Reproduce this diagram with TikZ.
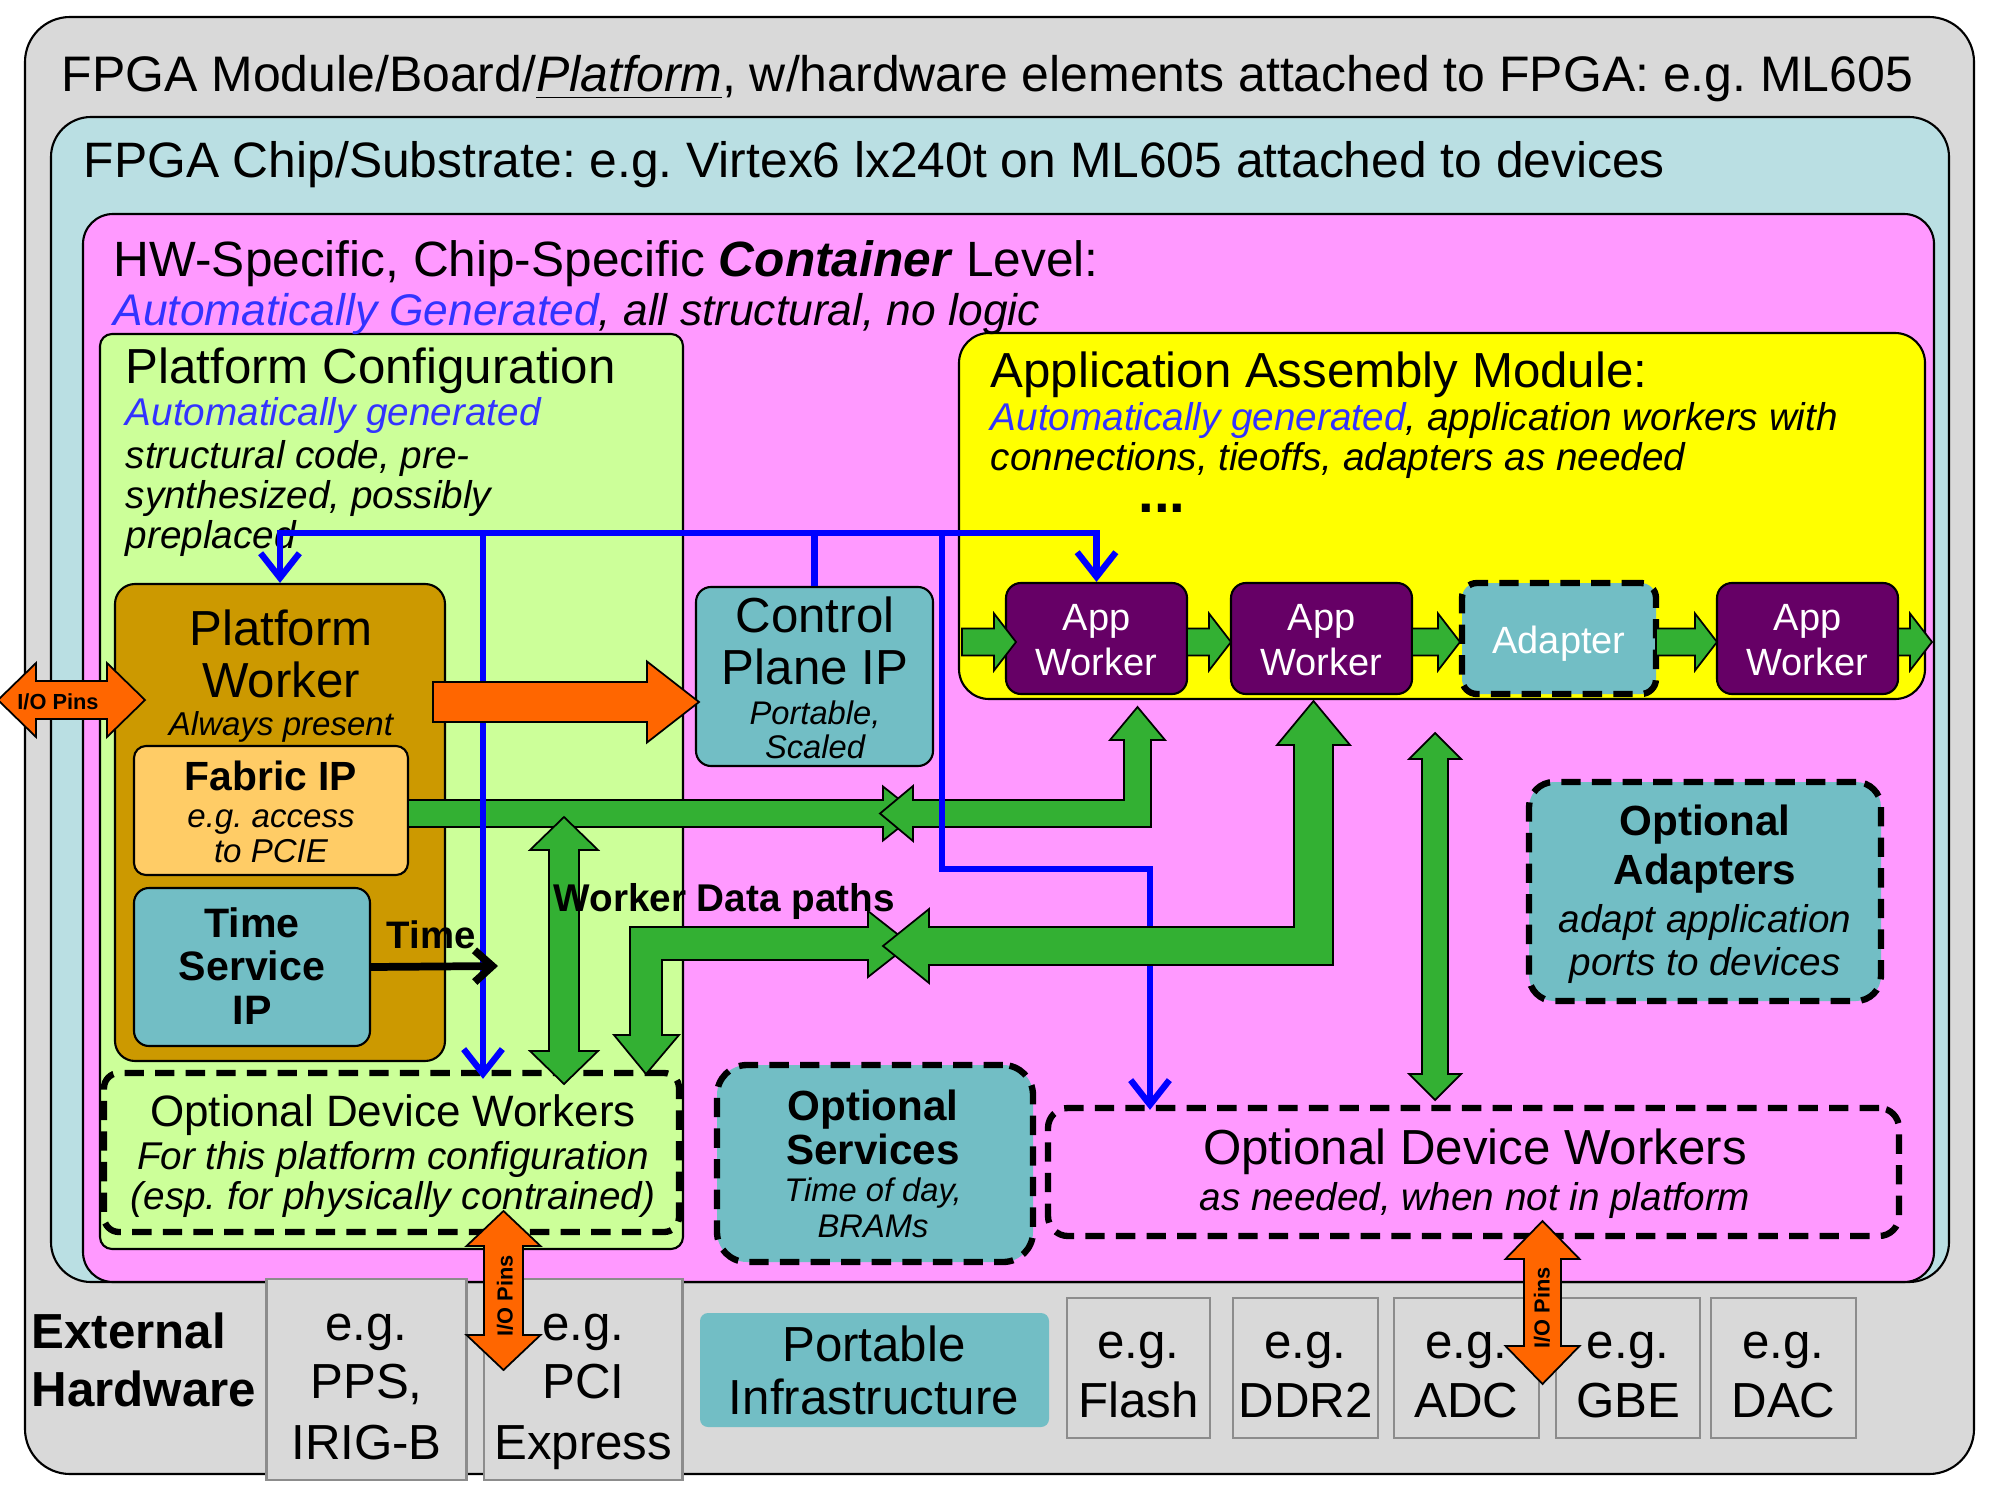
\documentclass[tikz,border=0pt]{standalone}
\usepackage{fontspec}
\setmainfont{Liberation Sans}
\usetikzlibrary{arrows.meta,fit}
\frenchspacing

\definecolor{boardgray}{HTML}{D9D9D9}
\definecolor{chipblue}{HTML}{BADFE3}
\definecolor{contpink}{HTML}{FF99FF}
\definecolor{confgreen}{HTML}{CCFF99}
\definecolor{appyellow}{HTML}{FFFF00}
\definecolor{pwgold}{HTML}{CC9900}
\definecolor{fabricorange}{HTML}{FFCC66}
\definecolor{portteal}{HTML}{72BEC5}
\definecolor{appurple}{HTML}{660066}
\definecolor{datagreen}{HTML}{33B033}
\definecolor{pinorange}{HTML}{FF6600}
\definecolor{ctrlblue}{HTML}{0000FF}
\definecolor{autoblue}{HTML}{3333FF}
\definecolor{extgray}{HTML}{8C8C8C}

\newcommand{\fsz}[2]{\fontsize{#1}{#2}\selectfont}

% fat arrows: [colour]{from x}{tip x}{y}{shaft half}{head half}{head length}
\newcommand{\fatR}[7][datagreen]{%
  \filldraw[fat, fill=#1] (#2,{#4-(#5)}) -- ({#3-(#7)},{#4-(#5)}) -- ({#3-(#7)},{#4-(#6)}) -- (#3,#4)
    -- ({#3-(#7)},{#4+(#6)}) -- ({#3-(#7)},{#4+(#5)}) -- (#2,{#4+(#5)}) -- cycle;}
\newcommand{\fatLR}[7][datagreen]{%
  \filldraw[fat, fill=#1] (#2,#4) -- ({#2+(#7)},{#4-(#6)}) -- ({#2+(#7)},{#4-(#5)}) -- ({#3-(#7)},{#4-(#5)})
    -- ({#3-(#7)},{#4-(#6)}) -- (#3,#4) -- ({#3-(#7)},{#4+(#6)}) -- ({#3-(#7)},{#4+(#5)})
    -- ({#2+(#7)},{#4+(#5)}) -- ({#2+(#7)},{#4+(#6)}) -- cycle;}
% vertical: [colour]{x}{top tip y}{bottom tip y}{shaft half}{head half}{head length}
\newcommand{\fatUD}[7][datagreen]{%
  \filldraw[fat, fill=#1] (#2,#3) -- ({#2+(#6)},{#3+(#7)}) -- ({#2+(#5)},{#3+(#7)}) -- ({#2+(#5)},{#4-(#7)})
    -- ({#2+(#6)},{#4-(#7)}) -- (#2,#4) -- ({#2-(#6)},{#4-(#7)}) -- ({#2-(#5)},{#4-(#7)})
    -- ({#2-(#5)},{#3+(#7)}) -- ({#2-(#6)},{#3+(#7)}) -- cycle;}

\tikzset{
  panel/.style={draw=black, line width=0.6pt, inner sep=0pt},
  optbox/.style={draw=black, line width=1.8pt, dash pattern=on 5.5pt off 3.2pt, inner sep=0pt},
  extbox/.style={draw=extgray, fill=boardgray, line width=0.7pt, inner sep=0pt},
  fat/.style={draw=black, line width=0.5pt, line join=miter},
  ctrl/.style={draw=ctrlblue, line width=1.8pt},
  barb/.tip={Straight Barb[length=7pt, width=11pt]},
  txt/.style={inner sep=0pt, anchor=base},
  txtl/.style={inner sep=0pt, anchor=base west},
}

\begin{document}
\begin{tikzpicture}[x=0.01cm, y=-0.01cm]
\useasboundingbox (0,0) rectangle (2000,1500);

% nested levels
\node[panel, fill=boardgray, rounded corners=0.45cm, fit={(25,17) (1974,1474)}] (board) {};
\node[panel, fill=chipblue, rounded corners=0.4cm, fit={(51,117) (1949,1282)}] (chip) {};
\node[panel, fill=contpink, rounded corners=0.3cm, fit={(83,214) (1934,1282)}] (cont) {};
\node[panel, fill=confgreen, rounded corners=0.12cm, fit={(100,334) (683,1249)}] (pconf) {};
\node[panel, fill=appyellow, rounded corners=0.3cm, fit={(959,333) (1925,699)}] (aam) {};

% platform side
\node[panel, fill=pwgold, rounded corners=0.2cm, fit={(115,584) (445,1061)}] (pw) {};
\node[panel, fill=fabricorange, rounded corners=0.12cm, fit={(134,746) (408,875)}] (fab) {};
\node[panel, fill=portteal, rounded corners=0.15cm, fit={(134,888) (370,1046)}] (ts) {};
\node[panel, fill=portteal, rounded corners=0.15cm, fit={(696,587) (933,766)}] (cp) {};
\node[optbox, fill=confgreen, rounded corners=0.15cm, fit={(104,1073) (679,1232)}] (odwl) {};
\node[optbox, fill=portteal, rounded corners=0.3cm, fit={(717,1065) (1033,1262)}] (osvc) {};
\node[optbox, fill=contpink, rounded corners=0.2cm, fit={(1048,1108) (1899,1236)}] (odwr) {};
\node[optbox, fill=portteal, rounded corners=0.25cm, fit={(1529,782) (1881,1001)}] (oadp) {};

% application workers
\foreach \nm/\xa/\xb in {aw1/1006/1187, aw2/1231/1412, aw3/1717/1898}
  \node[panel, fill=appurple, rounded corners=0.15cm, fit={(\xa,583) (\xb,694)}] (\nm) {};
\node[optbox, fill=portteal, rounded corners=0.15cm, fit={(1462,583) (1656,694)}] (adp) {};

% external hardware
\foreach \nm/\xa/\xb/\ya/\yb in {pps/266.6/466.5/1279/1480, pci/484/682.6/1279/1480,
    flash/1067/1210/1298/1438, ddr/1233/1378/1298/1438, adc/1394/1539/1298/1438,
    gbe/1556/1700/1298/1438, dac/1711/1856/1298/1438}
  \node[extbox, fit={(\xa,\ya) (\xb,\yb)}] (\nm) {};
\node[fill=portteal, rounded corners=0.08cm, inner sep=0pt, fit={(700,1313) (1049,1427)}] (pinf) {};

% platform configuration text
\node[txtl, font=\fsz{14}{16}] (pctitle) at (125,383) {Platform Configuration};
\node[txtl, font=\fsz{11}{13}\itshape, text=autoblue] (pcauto) at (125,425) {Automatically generated};
\foreach \txt/\y [count=\i] in {{structural code, pre-}/468, {synthesized, possibly}/508, preplaced/548}
  \node[txtl, font=\fsz{11}{13}\itshape] (pcline\i) at (125,\y) {\txt};

% data paths from fabric
\fatR{408}{917}{813.5}{13.5}{27}{34}
\filldraw[fat, fill=datagreen] (880,813.5) -- (913,786) -- (913,800) -- (1124,800) -- (1124,740)
  -- (1110,740) -- (1137.5,707) -- (1165,740) -- (1151,740) -- (1151,827) -- (913,827) -- (913,841) -- cycle;
\fatUD{564}{817}{1084}{15}{34}{33}

% control lines
\coordinate (busL) at (278,533);
\coordinate (tapA) at (483,533);
\coordinate (tapB) at (942,533);
\coordinate (kneeB) at (1150,869);
\draw[ctrl, barb-barb] (pw.north) -- (pw.north |- busL) -- (aw1.north |- busL) -- (aw1.north);
\draw[ctrl] (cp.north |- busL) -- (cp.north);
\draw[ctrl, -barb] (tapA) -- ([yshift=-0.09cm]tapA |- odwl.north);
\draw[ctrl, -barb] (tapB) |- (kneeB) -- ([yshift=-0.05cm]kneeB |- odwr.north);

% worker data paths
\filldraw[fat, fill=datagreen] (910,944) -- (868,977) -- (868,960) -- (662,960) -- (662,1035) -- (679,1035)
  -- (646,1074) -- (614,1035) -- (630,1035) -- (630,927) -- (868,927) -- (868,911) -- cycle;
\filldraw[fat, fill=datagreen] (883,946) -- (929,909) -- (929,927) -- (1294,927) -- (1294,745) -- (1277,745)
  -- (1313.5,701) -- (1350,745) -- (1333,745) -- (1333,965) -- (929,965) -- (929,983) -- cycle;
\fatUD{1435}{733}{1100}{13}{26}{26}

% pins and control plane
\fatR[pinorange]{433}{699}{702}{20}{40.5}{52}
\fatLR[pinorange]{-2}{145}{700}{19}{37}{38}
\fatUD[pinorange]{503.5}{1211}{1370}{19.5}{37}{35}
\fatUD[pinorange]{1542.5}{1221}{1384}{18.5}{37}{38}

% application chain
\foreach \xa/\xb in {962/1016, 1187/1231, 1412/1460, 1656/1717, 1898/1932}
  {\fatR{\xa}{\xb}{642}{13.5}{28.5}{22}}

% time
\coordinate (timeEnd) at (498,966);
\draw[line width=2.2pt, -{Straight Barb[length=5pt, width=9pt]}] (ts.east) -- (timeEnd);

% titles
\node[txtl, font=\fsz{14.2}{16}] (boardtitle) at (61,92)
  {FPGA Module/Board/\underline{\textit{Platform}}, w/hardware elements attached to FPGA: e.g. ML605};
\node[txtl, font=\fsz{14.15}{16}] (chiptitle) at (83,178)
  {FPGA Chip/Substrate: e.g. Virtex6 lx240t on ML605 attached to devices};
\node[txtl, font=\fsz{14.1}{16}] (conttitle) at (113,277)
  {HW-Specific, Chip-Specific \textbf{\textit{Container}} Level:};
\node[txtl, font=\fsz{12.6}{14}\itshape] (contsub) at (113,325)
  {\textcolor{autoblue}{Automatically Generated}, all structural, no logic};

% platform worker
\node[txt, font=\fsz{14}{16}] (pwname) at (281,645) {Platform};
\node[txt, font=\fsz{14}{16}] (pwname2) at (281,697) {Worker};
\node[txt, font=\fsz{9.4}{11}\itshape] (pwsub) at (281,735) {Always present};
\node[txt, font=\fsz{11.6}{13}\bfseries] (fabname) at (271,790) {Fabric IP};
\node[txt, font=\fsz{9.4}{11}\itshape] (fabsub) at (271,827) {e.g. access};
\node[txt, font=\fsz{9.4}{11}\itshape] (fabsub2) at (271,862) {to PCIE};
\foreach \txt/\y [count=\i] in {Time/937, Service/980, IP/1024}
  \node[txt, font=\fsz{11.7}{13}\bfseries] (tsname\i) at (252,\y) {\txt};
\node[txt, font=\fsz{10.9}{12}\bfseries] (timelbl) at (431,948) {Time};
\node[txt, font=\fsz{6.2}{7}\bfseries] (pinsL) at (58,709) {I/O Pins};

% control plane
\node[txt, font=\fsz{14}{16}] (cpname) at (815,632) {Control};
\node[txt, font=\fsz{14}{16}] (cpname2) at (815,684) {Plane IP};
\node[txt, font=\fsz{9.3}{11}\itshape] (cpsub) at (815,724) {Portable,};
\node[txt, font=\fsz{9.3}{11}\itshape] (cpsub2) at (815,758) {Scaled};

% application assembly
\node[txtl, font=\fsz{14}{16}] (aamtitle) at (990,387) {Application Assembly Module:};
\node[txtl, font=\fsz{11}{13}\itshape] (aamsub) at (990,430)
  {\textcolor{autoblue}{Automatically generated}, application workers with};
\node[txtl, font=\fsz{11}{13}\itshape] (aamsub2) at (990,470) {connections, tieoffs, adapters as needed};
\node[txt, font=\fsz{16}{18}\bfseries, text height=3pt, text depth=0pt] (aamdots) at (1162,512) {...};
\foreach \nm in {aw1, aw2, aw3} {
  \node[txt, font=\fsz{10.8}{12}, text=white] (\nm a) at (\nm.center |- 0,630) {App};
  \node[txt, font=\fsz{10.8}{12}, text=white] (\nm b) at (\nm.center |- 0,675) {Worker};
}
\node[txt, font=\fsz{10.8}{12}, text=white] (adpname) at (adp.center |- 0,653) {Adapter};

\node[txtl, font=\fsz{11}{13}\bfseries] (wdp) at (553,911) {Worker Data paths};

% optional parts
\node[txt, font=\fsz{12}{14}\bfseries] (oadpname) at (1705,835) {Optional};
\node[txt, font=\fsz{12}{14}\bfseries] (oadpname2) at (1705,884) {Adapters};
\node[txt, font=\fsz{11}{13}\itshape] (oadpsub) at (1705,932) {adapt application};
\node[txt, font=\fsz{11}{13}\itshape] (oadpsub2) at (1705,975) {ports to devices};
\node[txt, font=\fsz{12}{14}\bfseries] (osvcname) at (873,1120) {Optional};
\node[txt, font=\fsz{12}{14}\bfseries] (osvcname2) at (873,1164) {Services};
\node[txt, font=\fsz{9.3}{11}\itshape] (osvcsub) at (873,1201) {Time of day,};
\node[txt, font=\fsz{9.3}{11}\itshape] (osvcsub2) at (873,1237) {BRAMs};
\node[txt, font=\fsz{12.5}{14}] (odwlname) at (393,1126) {Optional Device Workers};
\node[txt, font=\fsz{11}{13}\itshape] (odwlsub) at (393,1169) {For this platform configuration};
\node[txt, font=\fsz{11}{13}\itshape] (odwlsub2) at (393,1209) {(esp. for physically contrained)};
\node[txt, font=\fsz{14}{16}] (odwrname) at (1475,1164) {Optional Device Workers};
\node[txt, font=\fsz{11}{13}\itshape] (odwrsub) at (1475,1210) {as needed, when not in platform};
\node[font=\fsz{6.2}{7}\bfseries, rotate=90, inner sep=0pt] (pinsB) at (505,1296) {I/O Pins};
\node[font=\fsz{6.2}{7}\bfseries, rotate=90, inner sep=0pt] (pinsC) at (1542,1308) {I/O Pins};

% external hardware text
\node[txtl, font=\fsz{14}{16}\bfseries] (exthw) at (31,1348) {External};
\node[txtl, font=\fsz{14}{16}\bfseries] (exthw2) at (31,1406) {Hardware};
\foreach \nm/\la/\lb in {pps/{PPS,}/IRIG-B, pci/PCI/Express} {
  \node[txt, font=\fsz{14}{16}] (\nm eg) at (\nm.center |- 0,1340) {e.g.};
  \node[txt, font=\fsz{14}{16}] (\nm la) at (\nm.center |- 0,1398) {\la};
  \node[txt, font=\fsz{14}{16}] (\nm lb) at (\nm.center |- 0,1459) {\lb};
}
\foreach \nm/\la in {flash/Flash, ddr/DDR2, adc/ADC, gbe/GBE, dac/DAC} {
  \node[txt, font=\fsz{14}{16}] (\nm eg) at (\nm.center |- 0,1358) {e.g.};
  \node[txt, font=\fsz{14}{16}] (\nm la) at (\nm.center |- 0,1417) {\la};
}
\node[txt, font=\fsz{14}{16}] (pinfname) at (874,1361) {Portable};
\node[txt, font=\fsz{14}{16}] (pinfname2) at (874,1414) {Infrastructure};
\end{tikzpicture}
\end{document}
